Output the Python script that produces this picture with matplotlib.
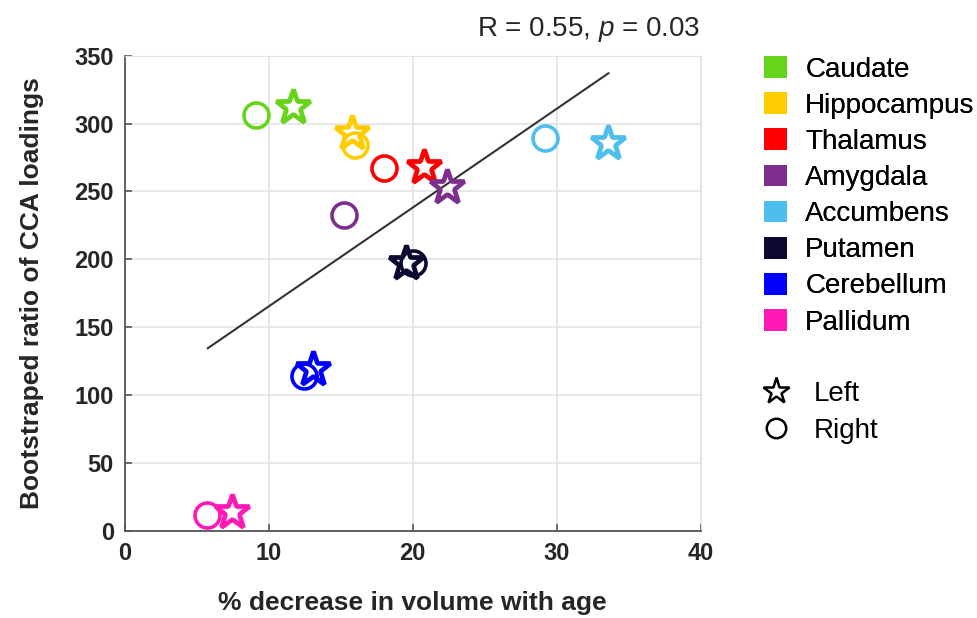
import matplotlib
matplotlib.use("Agg")
import matplotlib.pyplot as plt
from matplotlib.patches import Patch
from matplotlib.lines import Line2D

plt.rcParams['font.family'] = ['Liberation Sans', 'DejaVu Sans']
plt.rcParams['mathtext.fontset'] = 'custom'
plt.rcParams['mathtext.it'] = 'Liberation Sans:italic'
plt.rcParams['mathtext.rm'] = 'Liberation Sans'

# data
regions = ['Caudate', 'Hippocampus', 'Thalamus', 'Amygdala',
           'Accumbens', 'Putamen', 'Cerebellum', 'Pallidum']
colors = ['#66d41a', '#ffcc00', '#ff0000', '#7e2f8e',
          '#4dbeee', '#0a0a30', '#0000ff', '#ff19b4']
left_x = [11.65, 15.8, 20.75, 22.35, 33.6, 19.55, 13.05, 7.4]
left_y = [312, 293, 268, 253.5, 286, 197.5, 119, 14]
right_x = [9.1, 16.0, 18.0, 15.2, 29.2, 20.0, 12.45, 5.7]
right_y = [306.5, 284, 267.5, 232.5, 289.5, 197.5, 114, 12]
fit_x = [5.75, 33.6]
fit_y = [134.5, 337]
stats_text = 'R = 0.55, $\\it{p}$ = 0.03'

fig = plt.figure(figsize=(9.77, 6.18), dpi=100)
ax = fig.add_axes([0.128, 0.141, 0.589, 0.769])

ax.plot(fit_x, fit_y, color='#333333', lw=1.5, zorder=2)

for i in range(len(regions)):
    ax.plot(right_x[i], right_y[i], marker='o', ms=18, mfc='none',
            mec=colors[i], mew=2.6, ls='none', zorder=3)
    ax.plot(left_x[i], left_y[i], marker='*', ms=26, mfc='none',
            mec=colors[i], mew=3.4, ls='none', zorder=3)

ax.set_xlim(0, 40)
ax.set_ylim(0, 350)
ax.set_xticks([0, 10, 20, 30, 40])
ax.set_yticks(range(0, 351, 50))
ax.grid(True, color='#e3e3e3', lw=1.2)
ax.set_axisbelow(True)
for s in ['top', 'right']:
    ax.spines[s].set_color('#e3e3e3')
for s in ['left', 'bottom']:
    ax.spines[s].set_color('#555555')
    ax.spines[s].set_linewidth(1.3)
ax.tick_params(direction='in', length=5, width=1.2, color='#555555',
               labelsize=17, labelcolor='#262626', pad=8)
for lab in ax.get_xticklabels() + ax.get_yticklabels():
    lab.set_fontweight('bold')

ax.set_xlabel('% decrease in volume with age', fontsize=19, fontweight='bold',
              color='#262626', labelpad=19)
ax.set_ylabel('Bootstraped ratio of CCA loadings', fontsize=19,
              fontweight='bold', color='#262626', labelpad=22)
ax.set_title(stats_text, loc='right', fontsize=20, color='#262626', pad=14)

# colour legend
handles = [Patch(facecolor=c, edgecolor='none') for c in colors]
leg1 = fig.legend(handles, regions, loc='upper left',
                  bbox_to_anchor=(0.782, 0.909), frameon=False, fontsize=20,
                  handlelength=0.83, handleheight=0.83, handletextpad=0.65,
                  labelspacing=0.345, borderpad=0, borderaxespad=0)

# hemisphere legend
side_handles = [
    Line2D([], [], marker='*', ms=20, mfc='none', mec='black', mew=1.8,
           ls='none'),
    Line2D([], [], marker='o', ms=14, mfc='none', mec='black', mew=1.8,
           ls='none'),
]
leg2 = fig.legend(side_handles, ['Left', 'Right'], loc='upper left',
                  bbox_to_anchor=(0.782, 0.384), frameon=False, fontsize=20,
                  handlelength=0.83, handletextpad=0.95, labelspacing=0.4,
                  borderpad=0, borderaxespad=0)
fig.add_artist(leg1)

fig.savefig('out.png', dpi=100)
